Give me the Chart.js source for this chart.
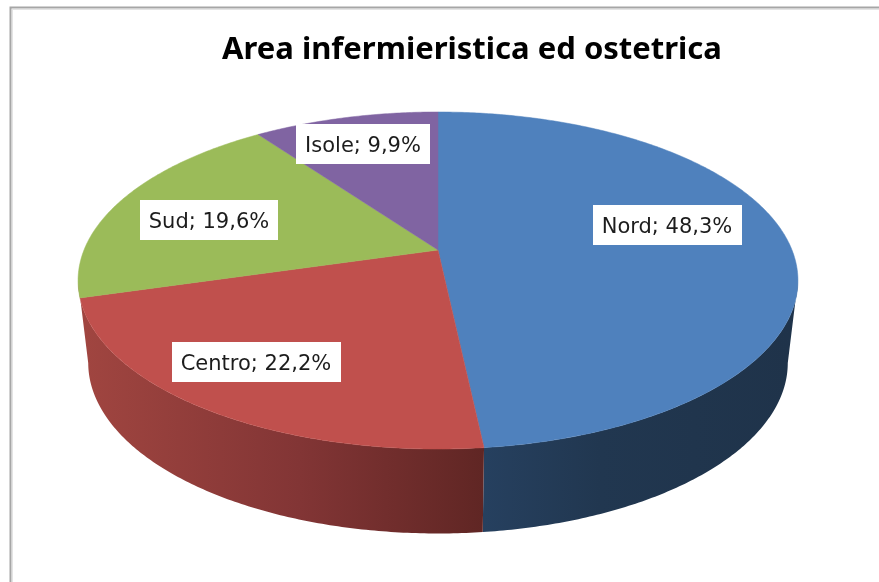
<!DOCTYPE html>
<html><head><meta charset="utf-8">
<script src="https://cdn.jsdelivr.net/npm/chart.js@4"></script>
<style>html,body{margin:0;padding:0;background:#fff;overflow:hidden}#w{width:879px;height:582px;position:relative}canvas{filter:blur(0.5px)}</style>
</head><body><div id="w"><canvas id="c" width="879" height="582"></canvas></div>
<script>
const categories = ['Nord','Centro','Sud','Isole'];
const seriesValues = [48.3,22.2,19.6,9.9];
const valueLabels = ['48,3%','22,2%','19,6%','9,9%'];
const chartTitle = 'Area infermieristica ed ostetrica';
const sliceColors = ['#4f81bd','#c0504d','#9bbb59','#8064a2'];

// perspective of the disc (layout only)
const VIEW = {cx:438, top:{cy:250,a:354,b:163}, bottom:{cy:332,a:344,b:165}, p:0.181};
const LABEL_CENTERS = [[667,225],[256,362],[209,220],[363,144]];
const WALLS = [
  [[484,'#26405f'],[600,'#213750'],[790,'#1f334a']],
  [[85,'#a04540'],[300,'#823535'],[483,'#602624']]
];
function project(face,ang){
  const u=Math.cos(ang),v=Math.sin(ang),d=1-VIEW.p*v;
  return [VIEW.cx+face.a*u/d, face.cy+face.b*v/d];
}
function arcPts(face,a0,a1){
  const n=Math.max(2,Math.ceil(Math.abs(a1-a0)/0.01)),pts=[];
  for(let i=0;i<=n;i++)pts.push(project(face,a0+(a1-a0)*i/n));
  return pts;
}
const disc3d = {
  id:'disc3d',
  beforeDraw(chart){
    const g=chart.ctx;g.save();
    g.fillStyle='#fff';g.fillRect(0,0,chart.width,chart.height);
    g.strokeStyle='#e4e4e4';g.lineWidth=1;g.strokeRect(12.5,9.5,1000,1000);
    g.strokeStyle='#a6a6a6';g.lineWidth=2;g.strokeRect(10.5,7.5,1000,1000);
    g.restore();
  },
  beforeDatasetsDraw(chart){
    const g=chart.ctx,arcs=chart.getDatasetMeta(0).data;
    const t0=Math.asin(VIEW.p),t1=Math.PI-t0;
    const front=arcs.map(a=>({s:Math.max(a.startAngle,t0),e:Math.min(a.endAngle,t1)}));
    const vis=front.map(f=>f.e-f.s>0.2);
    g.save();
    let last=vis.lastIndexOf(true);
    front.forEach((f,i)=>{
      if(!vis[i])return;
      const e=i===last?t1:f.e;
      const stops=WALLS[i];
      const x0=stops[0][0],x1=stops[stops.length-1][0];
      const gr=g.createLinearGradient(x0,0,x1,0);
      stops.forEach(s=>gr.addColorStop((s[0]-x0)/(x1-x0),s[1]));
      g.fillStyle=gr;
      const pts=arcPts(VIEW.top,f.s,e).concat(arcPts(VIEW.bottom,e,f.s));
      g.beginPath();pts.forEach((p,k)=>k?g.lineTo(p[0],p[1]):g.moveTo(p[0],p[1]));g.closePath();g.fill();
    });
    arcs.forEach((a,i)=>{
      g.fillStyle=a.options.backgroundColor;
      g.strokeStyle=a.options.backgroundColor;g.lineWidth=0.5;
      g.beginPath();g.moveTo(VIEW.cx,VIEW.top.cy);
      arcPts(VIEW.top,a.startAngle,a.endAngle).forEach(p=>g.lineTo(p[0],p[1]));
      g.closePath();g.fill();g.stroke();
    });
    g.restore();
    return false;
  },
  afterDraw(chart){
    const g=chart.ctx;g.save();
    g.font='21px "DejaVu Sans"';g.textAlign='center';g.textBaseline='middle';
    categories.forEach((c,i)=>{
      const t=c+'; '+valueLabels[i],w=g.measureText(t).width+18,[x,y]=LABEL_CENTERS[i];
      g.fillStyle='#fff';g.fillRect(Math.round(x-w/2),y-20,Math.round(w),40);
      g.fillStyle='#1c1c1c';g.fillText(t,x,y+3);
    });
    g.restore();
  }
};
new Chart(document.getElementById('c'),{
  type:'pie',
  data:{labels:categories,datasets:[{data:seriesValues,backgroundColor:sliceColors,borderWidth:0}]},
  options:{
    responsive:false,animation:false,
    layout:{padding:{left:65}},
    plugins:{
      legend:{display:false},tooltip:{enabled:false},
      title:{display:true,text:chartTitle,color:'#000',padding:{top:32,bottom:10},
        font:{family:'"Noto Sans"',size:31,weight:'bold'}}
    }
  },
  plugins:[disc3d]
});
</script></body></html>
